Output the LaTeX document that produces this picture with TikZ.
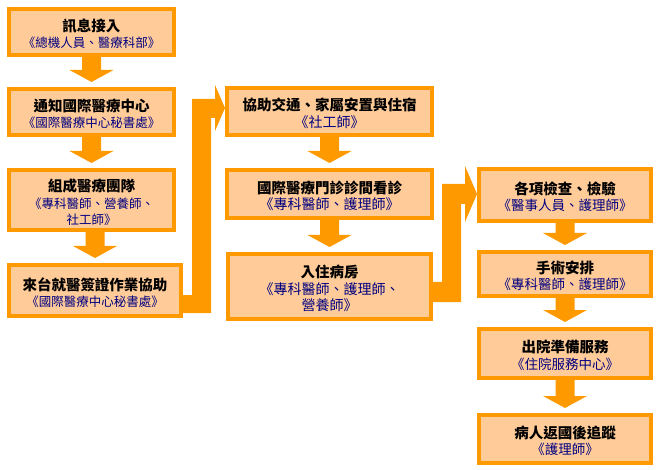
\documentclass[tikz,border=0pt]{standalone}
\usepackage{fontspec}
\newfontfamily\cjk{Noto Sans CJK TC}
\usetikzlibrary{calc}
\definecolor{borange}{RGB}{255,153,0}
\definecolor{bfill}{RGB}{255,204,153}
\definecolor{subnavy}{RGB}{0,0,128}
\newcommand\boxtitle[1]{{\cjk\bfseries\fontsize{14.5}{16.5}\selectfont #1}}
\newcommand\subA[1]{{\cjk\color{subnavy}\fontsize{12.5}{16.5}\selectfont #1}}
\newcommand\subB[1]{{\cjk\color{subnavy}\fontsize{14}{16.5}\selectfont #1}}
\newcommand\subC[1]{{\cjk\color{subnavy}\fontsize{13.5}{16.5}\selectfont #1}}
\tikzset{
  flowbox/.style={draw=borange, line width=4pt, fill=bfill, inner sep=0pt},
  boxtext/.style={inner sep=0pt, align=center, font=\cjk\fontsize{14.5}{16.5}\selectfont},
}
\newcommand\downblock[2]{%
  \fill[borange] let \p1=(#1.south), \p2=(#2.north) in
    (\x2-9.5pt,\y1) -- (\x2-9.5pt,\y2+17pt) -- (\x2-22pt,\y2+17pt) --
    (\x2,\y2+5pt) -- (\x2+22pt,\y2+17pt) -- (\x2+9.5pt,\y2+17pt) --
    (\x2+9.5pt,\y1) -- cycle;}
\begin{document}
\begin{tikzpicture}[x=1pt,y=-1pt]
\useasboundingbox (0,0) rectangle (661,470);
% column 1
\node[flowbox, minimum width=165pt, minimum height=46pt] (b1) at (91.5,32) {};
\node[boxtext] (t1) at ($(b1.center)+(0,2)$)
  {\boxtitle{訊息接入}\\\subA{《總機人員、醫療科部》}};
\node[flowbox, minimum width=165pt, minimum height=46pt] (b2) at (91.5,112) {};
\node[boxtext] (t2) at ($(b2.center)+(0,2)$)
  {\boxtitle{通知國際醫療中心}\\\subA{《國際醫療中心秘書處》}};
\node[flowbox, minimum width=165pt, minimum height=60pt] (b3) at (91.5,200) {};
\node[boxtext] (t3) at ($(b3.center)+(0,2.5)$)
  {\boxtitle{組成醫療團隊}\\\subA{《專科醫師、營養師、}\\\subA{社工師》}};
\node[flowbox, minimum width=172pt, minimum height=51pt] (b4) at (95,290.5) {};
\node[boxtext] (t4) at ($(b4.center)+(0,2)$)
  {\boxtitle{來台就醫簽證作業協助}\\\subA{《國際醫療中心秘書處》}};
% column 2
\node[flowbox, minimum width=205pt, minimum height=47pt] (b5) at (329.5,111.5) {};
\node[boxtext] (t5) at ($(b5.center)+(0,2)$)
  {\boxtitle{協助交通、家屬安置與住宿}\\\subB{《社工師》}};
\node[flowbox, minimum width=205pt, minimum height=48pt] (b6) at (329.5,194) {};
\node[boxtext] (t6) at ($(b6.center)+(0,2)$)
  {\boxtitle{國際醫療門診診間看診}\\\subB{《專科醫師、護理師》}};
\node[flowbox, minimum width=203pt, minimum height=65pt] (b7) at (329.5,286.5) {};
\node[boxtext] (t7) at ($(b7.center)+(0,2)$)
  {\boxtitle{入住病房}\\\subB{《專科醫師、護理師、}\\\subB{營養師》}};
% column 3
\node[flowbox, minimum width=172pt, minimum height=52pt] (b8) at (565,195) {};
\node[boxtext] (t8) at ($(b8.center)+(0,2)$)
  {\boxtitle{各項檢查、檢驗}\\\subC{《醫事人員、護理師》}};
\node[flowbox, minimum width=172pt, minimum height=44pt] (b9) at (565,274) {};
\node[boxtext] (t9) at ($(b9.center)+(0,2)$)
  {\boxtitle{手術安排}\\\subC{《專科醫師、護理師》}};
\node[flowbox, minimum width=172pt, minimum height=49pt] (b10) at (565,353.5) {};
\node[boxtext] (t10) at ($(b10.center)+(0,2)$)
  {\boxtitle{出院準備服務}\\\subC{《住院服務中心》}};
\node[flowbox, minimum width=172pt, minimum height=48pt] (b11) at (565,439) {};
\node[boxtext] (t11) at ($(b11.center)+(0,2)$)
  {\boxtitle{病人返國後追蹤}\\\subC{《護理師》}};
% down arrows
\downblock{b1}{b2}
\downblock{b2}{b3}
\downblock{b3}{b4}
\downblock{b5}{b6}
\downblock{b6}{b7}
\downblock{b8}{b9}
\downblock{b9}{b10}
\downblock{b10}{b11}
% elbow arrows
\fill[borange] (b4.east |- 0,295) -- (192,295) -- (192,99) -- (215,99) -- (215,85)
  -- (b5.west |- 0,108) -- (215,131) -- (215,118) -- (211,118) -- (211,313)
  -- (b4.east |- 0,313) -- cycle;
\fill[borange] (b7.east |- 0,282) -- (442,282) -- (442,184) -- (465,184) -- (465,166)
  -- (b8.west |- 0,194) -- (465,222) -- (465,204) -- (461,204) -- (461,302)
  -- (b7.east |- 0,302) -- cycle;
\end{tikzpicture}
\end{document}
